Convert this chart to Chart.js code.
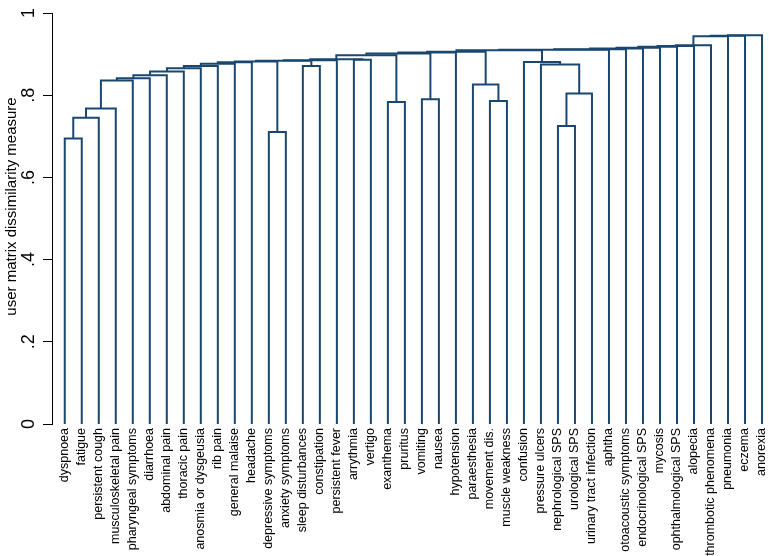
<!DOCTYPE html>
<html>
<head>
<meta charset="utf-8">
<script src="https://cdn.jsdelivr.net/npm/chart.js@4/dist/chart.umd.min.js"></script>
<style>
html,body{margin:0;padding:0;background:#fff;}
#wrap{width:769px;height:556px;}
</style>
</head>
<body>
<div id="wrap"><canvas id="c" width="769" height="556"></canvas></div>
<script>
// Leaf labels (left to right)
const leaves = [
  "dyspnoea","fatigue","persistent cough","musculoskeletal pain","pharyngeal symptoms",
  "diarrhoea","abdominal pain","thoracic pain","anosmia or dysgeusia","rib pain",
  "general malaise","headache","depressive symptoms","anxiety symptoms","sleep disturbances",
  "constipation","persistent fever","arrythmia","vertigo","exanthema","pruritus","vomiting",
  "nausea","hypotension","paraesthesia","movement dis.","muscle weakness","confusion",
  "pressure ulcers","nephrological SPS","urological SPS","urinary tract infection","aphtha",
  "otoacoustic symptoms","endocrinological SPS","mycosis","ophthalmological SPS","alopecia",
  "thrombotic phenomena","pneumonia","eczema","anorexia"
];
// Merge steps: node ids 0..41 are leaves, merge k creates node 42+k
const mergeLeft  = [0,42,43,44,45,46,47,48,49,50,51,12,52,14,54,56,17,57,19,59,21,61,63,25,24,64,29,68,28,27,67,72,73,74,75,76,77,78,79,80,81];
const mergeRight = [1, 2, 3, 4, 5, 6, 7, 8, 9,10,11,13,53,15,55,16,18,58,20,60,22,62,23,26,65,66,30,31,69,70,71,32,33,34,35,36,37,38,39,40,41];
const mergeHeight = [0.6946,0.745,0.7676,0.8357,0.8412,0.8485,0.8575,0.8656,0.8713,0.8765,0.8801,
  0.7107,0.8818,0.8711,0.8838,0.8850,0.8860,0.8875,0.7836,0.8971,0.7902,0.9015,0.9039,
  0.786,0.8259,0.9058,0.7253,0.804,0.8746,0.8809,0.9093,0.9108,0.9120,0.9135,0.9154,
  0.9178,0.9195,0.9215,0.9433,0.9446,0.9458];
const yTicks = [0,0.2,0.4,0.6,0.8,1];
const yTitle = 'user matrix dissimilarity measure';

// Build node positions from the merge table
const nodeX = leaves.map((_, i) => i);
const nodeH = leaves.map(() => 0);
const datasets = [];
mergeLeft.forEach((l, k) => {
  const r = mergeRight[k], h = mergeHeight[k];
  datasets.push({
    data: [{x: nodeX[l], y: nodeH[l]}, {x: nodeX[l], y: h}, {x: nodeX[r], y: h}, {x: nodeX[r], y: nodeH[r]}],
    showLine: true, borderColor: '#1a476f', borderWidth: 2, pointRadius: 0,
    borderJoinStyle: 'miter', borderCapStyle: 'butt', fill: false, tension: 0
  });
  nodeX.push((nodeX[l] + nodeX[r]) / 2);
  nodeH.push(h);
});

const FONT = "'Liberation Sans', Arial, sans-serif";

// y-axis title drawn as rotated text, centred slightly above the axis midpoint
const titlePlugin = {
  id: 'ytitle',
  afterDraw(chart) {
    const ctx = chart.ctx, y = chart.scales.y;
    ctx.save();
    ctx.font = '15px ' + FONT;
    ctx.fillStyle = '#000';
    ctx.textAlign = 'center';
    ctx.textBaseline = 'middle';
    ctx.translate(11.5, (y.top + y.bottom) / 2 - 12);
    ctx.rotate(-Math.PI / 2);
    ctx.fillText(yTitle, 0, 0);
    ctx.restore();
  }
};

new Chart(document.getElementById('c'), {
  type: 'scatter',
  data: {datasets},
  plugins: [titlePlugin],
  options: {
    responsive: false, animation: false, devicePixelRatio: 1,
    layout: {padding: {top: 13, left: 0, right: 0, bottom: 0}},
    plugins: {legend: {display: false}, tooltip: {enabled: false}},
    scales: {
      x: {
        type: 'linear', min: -0.75, max: 41.41,
        grid: {display: false, drawTicks: false},
        border: {display: false},
        afterBuildTicks: (axis) => { axis.ticks = leaves.map((_, i) => ({value: i})); },
        afterFit: (s) => { s.height = 132; s.paddingLeft = 0; s.paddingRight = 0; },
        ticks: {
          autoSkip: false, minRotation: 90, maxRotation: 90, padding: 4,
          color: '#000', font: {family: FONT, size: 12.5},
          callback: (v) => leaves[v]
        }
      },
      y: {
        type: 'linear', min: 0, max: 1,
        afterBuildTicks: (axis) => { axis.ticks = yTicks.map(v => ({value: v})); },
        afterFit: (s) => { s.width = 52; s.paddingTop = 0; s.paddingBottom = 0; },
        grid: {display: true, drawOnChartArea: false, drawTicks: true, tickLength: 9, color: '#000', lineWidth: 1},
        border: {display: true, color: '#000', width: 1},
        ticks: {
          minRotation: 90, maxRotation: 90, crossAlign: 'center', padding: 6,
          color: '#000', font: {family: FONT, size: 18},
          callback: (v) => { const r = Math.round(v * 10) / 10; return (r === 0 || r === 1) ? String(r) : String(r).replace(/^0/, ''); }
        },
        title: {display: false}
      }
    }
  }
});
</script>
</body>
</html>
